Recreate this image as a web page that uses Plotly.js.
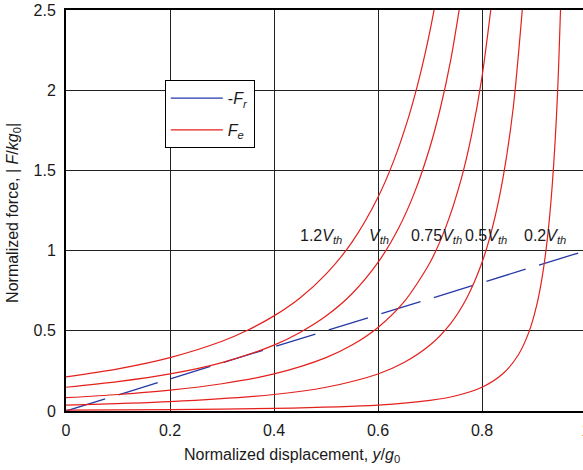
<!DOCTYPE html>
<html>
<head>
<meta charset="utf-8">
<script src="https://cdn.plot.ly/plotly-3.0.1.min.js"></script>
<style>
html,body{margin:0;padding:0;overflow:hidden;background:#fff;}
#chart{width:600px;height:470px;}
</style>
</head>
<body>
<div id="chart"></div>
<script>
// Restoring force line (-F_r)
const frX = [0, 0.25, 0.5, 0.75, 1.0];
const frY = [0, 0.25, 0.5, 0.75, 1.0];

// Electrostatic force curves (F_e), one per voltage
const voltageLabels = ['1.2<i>V</i><sub><i>th</i></sub>', '<i>V</i><sub><i>th</i></sub>', '0.75<i>V</i><sub><i>th</i></sub>', '0.5<i>V</i><sub><i>th</i></sub>', '0.2<i>V</i><sub><i>th</i></sub>'];

const fe12X = [0, 0.1, 0.2, 0.3, 0.35, 0.4, 0.45, 0.5, 0.55, 0.6, 0.63, 0.66, 0.68, 0.70, 0.715];
const fe12Y = [0.213, 0.263, 0.333, 0.435, 0.505, 0.593, 0.705, 0.853, 1.053, 1.333, 1.558, 1.845, 2.083, 2.370, 2.627];

const fe10X = [0, 0.1, 0.2, 0.3, 0.4, 0.45, 0.5, 0.55, 0.6, 0.64, 0.67, 0.7, 0.72, 0.74, 0.765];
const fe10Y = [0.148, 0.183, 0.231, 0.302, 0.411, 0.490, 0.592, 0.731, 0.926, 1.143, 1.360, 1.646, 1.889, 2.191, 2.682];

const fe075X = [0, 0.1, 0.2, 0.3, 0.4, 0.5, 0.55, 0.6, 0.65, 0.7, 0.73, 0.76, 0.78, 0.8, 0.825];
const fe075Y = [0.083, 0.103, 0.130, 0.170, 0.231, 0.333, 0.411, 0.521, 0.680, 0.926, 1.143, 1.446, 1.721, 2.083, 2.720];

const fe05X = [0, 0.2, 0.4, 0.5, 0.6, 0.65, 0.7, 0.74, 0.77, 0.8, 0.82, 0.84, 0.86, 0.885];
const fe05Y = [0.037, 0.058, 0.103, 0.148, 0.231, 0.302, 0.411, 0.547, 0.700, 0.926, 1.143, 1.446, 1.889, 2.798];

const fe02X = [0, 0.2, 0.4, 0.6, 0.7, 0.75, 0.8, 0.84, 0.87, 0.89, 0.905, 0.915, 0.925, 0.935, 0.945, 0.955];
const fe02Y = [0.006, 0.009, 0.016, 0.037, 0.066, 0.095, 0.148, 0.232, 0.351, 0.490, 0.657, 0.821, 1.054, 1.404, 1.960, 2.928];

// label anchor points (x, y in data units)
const labelX = [0.49, 0.602, 0.712, 0.807, 0.922];
const labelY = [1.09, 1.09, 1.09, 1.09, 1.09];

const xTicks = [0, 0.2, 0.4, 0.6, 0.8, 1];
const xTickText = ['0', '0.2', '0.4', '0.6', '0.8', '1'];
const yTicks = [0, 0.5, 1, 1.5, 2, 2.5];
const yTickText = ['0', '0.5', '1', '1.5', '2', '2.5'];

const RED = 'rgb(228,32,28)';
const BLUE = 'rgb(36,56,168)';
const FONT = 'Liberation Sans, Arial, Helvetica, sans-serif';
const TXT = '#1a1a1a';

const feSeries = [[fe12X, fe12Y], [fe10X, fe10Y], [fe075X, fe075Y], [fe05X, fe05Y], [fe02X, fe02Y]];

const traces = [{
  x: frX, y: frY, type: 'scatter', mode: 'lines',
  name: '-<i>F</i><sub><i>r</i></sub>',
  legendgroup: 'fr', showlegend: false,
  line: {color: BLUE, width: 1.3, dash: '41px,14px'}
}, {
  // legend entry only (solid sample, as in the reference legend)
  x: [null], y: [null], type: 'scatter', mode: 'lines',
  name: '-<i>F</i><sub><i>r</i></sub>',
  legendgroup: 'fr', showlegend: true,
  line: {color: BLUE, width: 1.3}
}];
feSeries.forEach((s, i) => {
  traces.push({
    x: s[0], y: s[1], type: 'scatter', mode: 'lines',
    name: '<i>F</i><sub><i>e</i></sub>',
    legendgroup: 'fe', showlegend: i === 0,
    line: {color: RED, width: 1.2, shape: 'spline', smoothing: 0.8}
  });
});

const annotations = voltageLabels.map((t, i) => ({
  x: labelX[i], y: labelY[i], xref: 'x', yref: 'y', text: t, showarrow: false,
  xanchor: 'center', yanchor: 'middle', font: {family: FONT, size: 16, color: TXT}
}));
annotations.push({
  x: 0.4346, y: -0.11, xref: 'paper', yref: 'paper', showarrow: false,
  text: 'Normalized displacement, <i>y</i>/<i>g</i><sub>0</sub>',
  xanchor: 'center', yanchor: 'middle', font: {family: FONT, size: 16, color: TXT}
});
annotations.push({
  x: -0.1, y: 0.494, xref: 'paper', yref: 'paper', showarrow: false, textangle: -90,
  text: 'Normalized force, | <i>F</i>/<i>kg</i><sub>0</sub>|',
  xanchor: 'center', yanchor: 'middle', font: {family: FONT, size: 16, color: TXT}
});

const layout = {
  width: 600, height: 470,
  margin: {l: 66, r: 14, t: 10, b: 59},
  paper_bgcolor: '#fff', plot_bgcolor: '#fff',
  font: {family: FONT, size: 16, color: TXT},
  showlegend: true,
  legend: {
    x: 0.19, y: 0.825, xanchor: 'left', yanchor: 'top',
    bgcolor: '#fff', bordercolor: '#000', borderwidth: 1,
    traceorder: 'grouped', tracegroupgap: 8, itemwidth: 52,
    font: {family: FONT, size: 16, color: TXT}
  },
  xaxis: {
    range: [0, 1], tickvals: xTicks, ticktext: xTickText,
    showgrid: true, gridcolor: '#222', gridwidth: 1,
    showline: true, linecolor: '#000', linewidth: 2, mirror: true,
    zeroline: false, ticks: '', ticklabelstandoff: 4,
    tickfont: {family: FONT, size: 16, color: TXT}
  },
  yaxis: {
    range: [0, 2.5], tickvals: yTicks, ticktext: yTickText,
    showgrid: true, gridcolor: '#222', gridwidth: 1,
    showline: true, linecolor: '#000', linewidth: 2, mirror: true,
    zeroline: false, ticks: '', ticklabelstandoff: 5,
    tickfont: {family: FONT, size: 16, color: TXT}
  },
  annotations: annotations
};

Plotly.newPlot('chart', traces, layout, {displayModeBar: false, staticPlot: true});
</script>
</body>
</html>
